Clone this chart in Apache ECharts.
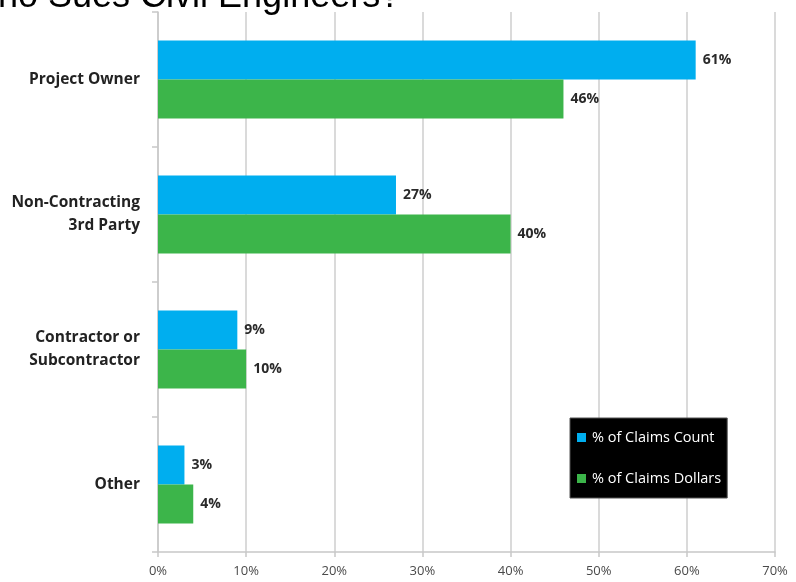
<!DOCTYPE html>
<html>
<head>
<meta charset="utf-8">
<script src="https://cdn.jsdelivr.net/npm/echarts@6/dist/echarts.min.js"></script>
<style>
  html, body { margin: 0; padding: 0; background: #fff; }
  #chart { width: 796px; height: 582px; }
</style>
</head>
<body>
<div id="chart"></div>
<script>
// Who sues civil engineers: share of claims by claimant type
const categories = ['Project Owner', 'Non-Contracting\n3rd Party', 'Contractor or\nSubcontractor', 'Other'];
const claimsCountPct = [61, 27, 9, 3];
const claimsDollarsPct = [46, 40, 10, 4];
const xTicks = [0, 10, 20, 30, 40, 50, 60, 70];

const labelFont = '"Open Sans", Lato, sans-serif';

const chart = echarts.init(document.getElementById('chart'), null, { renderer: 'canvas' });

const valueLabel = {
  show: true,
  position: 'right',
  distance: 7,
  formatter: p => p.value + '%',
  fontFamily: labelFont,
  fontWeight: 'bold',
  fontSize: 14,
  color: '#2a2a2a'
};

chart.setOption({
  animation: false,
  backgroundColor: '#ffffff',
  title: {
    text: 'Who Sues Civil Engineers?',
    left: -36,
    top: -21,
    padding: 0,
    textStyle: {
      fontFamily: '"Liberation Sans", Arial, sans-serif',
      fontWeight: 'normal',
      fontSize: 36,
      color: '#000000'
    }
  },
  grid: { left: 158, right: 21, top: 12, bottom: 30, containLabel: false },
  xAxis: {
    type: 'value',
    min: xTicks[0],
    max: xTicks[xTicks.length - 1],
    interval: 10,
    axisLine: { show: true, lineStyle: { color: '#c8c8c8', width: 1.5 } },
    axisTick: { show: true, length: 5, lineStyle: { color: '#c8c8c8', width: 1.5 } },
    splitLine: { show: true, lineStyle: { color: '#dadada', width: 2 } },
    axisLabel: {
      margin: 13,
      formatter: '{value}%',
      fontFamily: labelFont,
      fontSize: 13,
      color: '#4a4a4a'
    }
  },
  yAxis: {
    type: 'category',
    inverse: true,
    data: categories,
    axisLine: { show: true, lineStyle: { color: '#c8c8c8', width: 1.5 } },
    axisTick: { show: true, length: 6, lineStyle: { color: '#c8c8c8', width: 1.5 } },
    axisLabel: {
      margin: 18,
      fontFamily: labelFont,
      fontWeight: 'bold',
      fontSize: 15.5,
      lineHeight: 23,
      color: '#222222',
      align: 'right'
    }
  },
  legend: {
    orient: 'vertical',
    left: 570,
    top: 418,
    backgroundColor: '#000000',
    borderColor: '#555555',
    borderWidth: 1,
    padding: [12, 6, 12, 7],
    itemGap: 26,
    itemWidth: 9,
    itemHeight: 9,
    icon: 'rect',
    textStyle: {
      color: '#ffffff',
      fontFamily: labelFont,
      fontSize: 14.5,
      padding: [0, 0, 0, 1]
    },
    data: ['% of Claims Count', '% of Claims Dollars']
  },
  series: [
    {
      name: '% of Claims Count',
      type: 'bar',
      data: claimsCountPct,
      barWidth: 39,
      barGap: '0%',
      itemStyle: { color: '#00aeef' },
      label: valueLabel
    },
    {
      name: '% of Claims Dollars',
      type: 'bar',
      data: claimsDollarsPct,
      barWidth: 39,
      barGap: '0%',
      itemStyle: { color: '#3cb54a' },
      label: valueLabel
    }
  ]
});
</script>
</body>
</html>
